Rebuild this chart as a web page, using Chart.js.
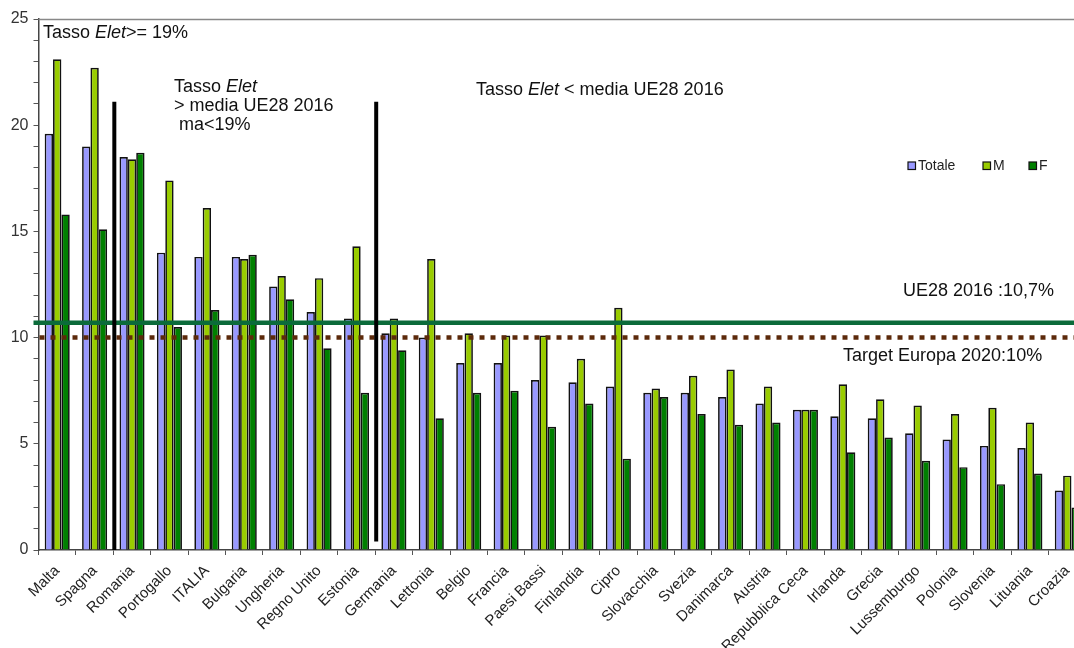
<!DOCTYPE html>
<html>
<head>
<meta charset="utf-8">
<script src="https://cdn.jsdelivr.net/npm/chart.js@4.4.1/dist/chart.umd.min.js"></script>
<style>
  html, body { margin: 0; padding: 0; background: #fff; overflow: hidden; }
  #wrap { width: 1088px; height: 648px; }
</style>
</head>
<body>
<div id="wrap"><canvas id="elet"></canvas></div>
<script>
const countries = ['Malta', 'Spagna', 'Romania', 'Portogallo', 'ITALIA', 'Bulgaria', 'Ungheria',
  'Regno Unito', 'Estonia', 'Germania', 'Lettonia', 'Belgio', 'Francia', 'Paesi Bassi', 'Finlandia',
  'Cipro', 'Slovacchia', 'Svezia', 'Danimarca', 'Austria', 'Repubblica Ceca', 'Irlanda', 'Grecia',
  'Lussemburgo', 'Polonia', 'Slovenia', 'Lituania', 'Croazia'];
const totale  = [19.6, 19.0, 18.5, 14.0, 13.8, 13.8, 12.4, 11.2, 10.9, 10.2, 10.0, 8.8, 8.8, 8.0,
  7.9, 7.7, 7.4, 7.4, 7.2, 6.9, 6.6, 6.3, 6.2, 5.5, 5.2, 4.9, 4.8, 2.8];
const maschi  = [23.1, 22.7, 18.4, 17.4, 16.1, 13.7, 12.9, 12.8, 14.3, 10.9, 13.7, 10.2, 10.1, 10.1,
  9.0, 11.4, 7.6, 8.2, 8.5, 7.7, 6.6, 7.8, 7.1, 6.8, 6.4, 6.7, 6.0, 3.5];
const femmine = [15.8, 15.1, 18.7, 10.5, 11.3, 13.9, 11.8, 9.5, 7.4, 9.4, 6.2, 7.4, 7.5, 5.8,
  6.9, 4.3, 7.2, 6.4, 5.9, 6.0, 6.6, 4.6, 5.3, 4.2, 3.9, 3.1, 3.6, 2.0];
const seriesNames = ['Totale', 'M', 'F'];
const ue28Media = 10.7;
const target2020 = 10;
const yMax = 25;

const FONT = '"Liberation Sans", Arial, sans-serif';
const colors = ['#9999ff', '#99cc00', '#008000'];

// testo con parti in corsivo
function rich(ctx, parts, x, y, size) {
  let cx = x;
  for (const [t, it] of parts) {
    ctx.font = (it ? 'italic ' : '') + size + 'px ' + FONT;
    ctx.fillText(t, cx, y);
    cx += ctx.measureText(t).width;
  }
}

const overlay = {
  id: 'overlay',
  afterDatasetsDraw(chart) {
    const { ctx, chartArea: a, scales: { x, y } } = chart;
    ctx.save();

    // bordo superiore
    ctx.strokeStyle = '#888';
    ctx.lineWidth = 1.5;
    ctx.beginPath();
    ctx.moveTo(a.left, a.top + 0.5);
    ctx.lineTo(a.right, a.top + 0.5);
    ctx.stroke();

    // target 2020 (puntinato)
    let yy = y.getPixelForValue(target2020);
    ctx.strokeStyle = '#5c2a0b';
    ctx.lineWidth = 4.5;
    ctx.setLineDash([5, 6]);
    ctx.beginPath();
    ctx.moveTo(a.left + 1, yy);
    ctx.lineTo(a.right, yy);
    ctx.stroke();
    ctx.setLineDash([]);

    // media UE28
    yy = y.getPixelForValue(ue28Media);
    ctx.strokeStyle = '#0b6b3a';
    ctx.lineWidth = 4.5;
    ctx.beginPath();
    ctx.moveTo(a.left - 5, yy);
    ctx.lineTo(a.right, yy);
    ctx.stroke();

    // separatori dei gruppi
    ctx.strokeStyle = '#000';
    ctx.lineWidth = 4;
    const sep = [[1, 0], [8, 0.4]];
    for (const [i, bottom] of sep) {
      const sx = (x.getPixelForValue(i) + x.getPixelForValue(i + 1)) / 2 + 1;
      ctx.beginPath();
      ctx.moveTo(sx, y.getPixelForValue(21.1));
      ctx.lineTo(sx, y.getPixelForValue(bottom));
      ctx.stroke();
    }

    // testi
    ctx.fillStyle = '#111';
    ctx.textBaseline = 'middle';
    ctx.textAlign = 'left';
    rich(ctx, [['Tasso ', 0], ['Elet', 1], ['>= 19%', 0]], 43, 33, 18);
    rich(ctx, [['Tasso ', 0], ['Elet', 1]], 174, 87, 18);
    rich(ctx, [['> media UE28 2016', 0]], 174, 106, 18);
    rich(ctx, [[' ma<19%', 0]], 174, 125, 18);
    rich(ctx, [['Tasso ', 0], ['Elet', 1], [' < media UE28 2016', 0]], 476, 90, 18);
    rich(ctx, [['UE28 2016 :10,7%', 0]], 903, 291, 18);
    rich(ctx, [['Target Europa 2020:10%', 0]], 843, 356, 18);

    // legenda
    const lx = [908, 983, 1029];
    ctx.font = '14px ' + FONT;
    chart.data.datasets.forEach((ds, i) => {
      ctx.fillStyle = ds.backgroundColor;
      ctx.fillRect(lx[i], 162, 7.5, 7.5);
      ctx.strokeStyle = '#111';
      ctx.lineWidth = 1.2;
      ctx.strokeRect(lx[i], 162, 7.5, 7.5);
      ctx.fillStyle = '#222';
      ctx.fillText(ds.label, lx[i] + 10, 166.5);
    });
    ctx.restore();
  }
};

new Chart(document.getElementById('elet'), {
  type: 'bar',
  data: {
    labels: countries,
    datasets: [totale, maschi, femmine].map((d, i) => ({
      label: seriesNames[i],
      data: d,
      backgroundColor: colors[i],
      borderColor: '#111',
      borderWidth: 1.7,
      categoryPercentage: 0.67,
      barPercentage: 1
    }))
  },
  options: {
    responsive: true,
    maintainAspectRatio: false,
    animation: false,
    layout: { padding: { top: 19, right: 2, left: 0, bottom: 0 } },
    plugins: { legend: { display: false }, tooltip: { enabled: false } },
    scales: {
      x: {
        afterFit(s) { s.height = 98; },
        grid: { offset: true, drawOnChartArea: false, tickLength: 5, color: '#555' },
        border: { color: '#444', width: 1.5 },
        ticks: {
          autoSkip: false, maxRotation: 45, minRotation: 45, padding: 7,
          color: '#222', font: { family: FONT, size: 15 }
        }
      },
      y: {
        min: 0,
        max: yMax,
        afterFit(s) { s.width = 38.5; },
        grid: { drawOnChartArea: false, tickLength: 5, color: '#555' },
        border: { color: '#444', width: 1.5 },
        ticks: {
          stepSize: 1, autoSkip: false, padding: 5, color: '#333',
          font: { family: FONT, size: 16 },
          callback: v => (v % 5 === 0 ? v : '')
        }
      }
    }
  },
  plugins: [overlay]
});
</script>
</body>
</html>
